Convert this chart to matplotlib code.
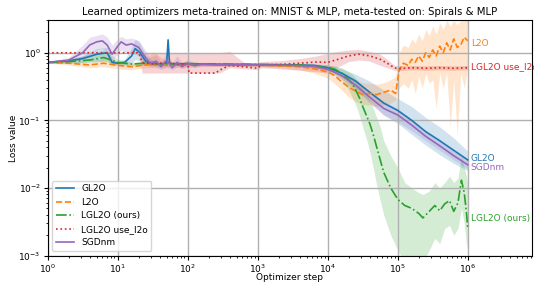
import numpy as np
import matplotlib
matplotlib.use("Agg")
import matplotlib.pyplot as plt

# log10(step) grids and values
gl2o_logx = [0, 0.3, 0.5, 0.7, 0.85, 0.92, 1.0, 1.1, 1.2, 1.25, 1.32, 1.4, 1.5, 1.6, 1.7, 1.72, 1.74, 1.8,
             2.0, 2.3, 2.6, 3.0, 3.5, 3.8, 4.0, 4.2, 4.4, 4.6, 4.8, 5.0, 5.2, 5.4, 5.6, 5.8, 6.0]
gl2o = [0.72, 0.76, 0.82, 0.95, 1.0, 0.72, 0.70, 0.72, 0.9, 1.15, 1.0, 0.75, 0.70, 0.68, 0.7, 1.55, 0.7, 0.68,
        0.69, 0.68, 0.67, 0.67, 0.66, 0.65, 0.60, 0.50, 0.38, 0.26, 0.18, 0.14, 0.10, 0.068, 0.05, 0.036, 0.026]
gl2o_lo = [0.7, 0.7, 0.72, 0.75, 0.78, 0.66, 0.65, 0.66, 0.7, 0.8, 0.75, 0.66, 0.65, 0.64, 0.65, 0.9, 0.65, 0.64,
           0.65, 0.65, 0.64, 0.64, 0.63, 0.61, 0.55, 0.44, 0.3, 0.19, 0.12, 0.09, 0.062, 0.043, 0.031, 0.023, 0.018]
gl2o_hi = [0.74, 0.8, 0.9, 1.15, 1.2, 0.8, 0.76, 0.8, 1.2, 1.6, 1.4, 0.9, 0.76, 0.72, 0.75, 1.7, 0.76, 0.72,
           0.72, 0.71, 0.7, 0.7, 0.69, 0.69, 0.66, 0.58, 0.48, 0.38, 0.28, 0.21, 0.16, 0.11, 0.08, 0.055, 0.035]

l2o_logx = [0, 0.3, 0.6, 0.8, 1.0, 1.2, 1.4, 1.5, 1.7, 2.0, 2.3, 2.6, 3.0, 3.3, 3.6, 3.8, 4.0, 4.1, 4.2, 4.3,
            4.4, 4.5, 4.6, 4.7, 4.8, 4.9, 4.97, 5.02, 5.08, 5.15, 5.2, 5.25, 5.3, 5.35, 5.4, 5.45, 5.5, 5.55,
            5.6, 5.65, 5.7, 5.75, 5.8, 5.85, 5.9, 5.95, 6.0]
l2o = [0.72, 0.7, 0.66, 0.7, 0.65, 0.62, 0.66, 0.68, 0.65, 0.66, 0.67, 0.67, 0.66, 0.64, 0.62, 0.58, 0.52, 0.46,
       0.37, 0.31, 0.27, 0.24, 0.25, 0.24, 0.26, 0.28, 0.25, 0.55, 0.7, 0.65, 0.8, 0.72, 0.9, 0.75, 1.0, 0.85,
       1.1, 0.9, 1.25, 1.0, 1.4, 1.1, 1.6, 1.2, 1.3, 1.7, 1.5]
l2o_lo = [0.7, 0.66, 0.6, 0.62, 0.58, 0.56, 0.6, 0.6, 0.6, 0.62, 0.63, 0.63, 0.62, 0.6, 0.56, 0.5, 0.42, 0.35,
          0.28, 0.22, 0.19, 0.17, 0.17, 0.16, 0.17, 0.18, 0.2, 0.3, 0.35, 0.3, 0.4, 0.25, 0.45, 0.3, 0.5, 0.35,
          0.4, 0.15, 0.5, 0.3, 0.5, 0.08, 0.4, 0.06, 0.5, 0.3, 0.6]
l2o_hi = [0.74, 0.76, 0.72, 0.8, 0.72, 0.7, 0.76, 1.05, 0.75, 0.72, 0.72, 0.72, 0.7, 0.69, 0.68, 0.66, 0.62, 0.58,
          0.5, 0.45, 0.4, 0.36, 0.35, 0.34, 0.36, 0.4, 0.45, 1.0, 1.3, 1.2, 1.6, 1.4, 1.9, 1.5, 2.2, 1.8, 2.5,
          1.9, 2.8, 2.2, 3.0, 2.5, 3.0, 2.6, 3.0, 3.0, 3.0]

lgl2o_logx = [0, 0.3, 0.6, 0.8, 1.0, 1.2, 1.4, 1.6, 2.0, 2.5, 3.0, 3.5, 3.8, 4.0, 4.1, 4.2, 4.3, 4.35, 4.4, 4.45,
              4.5, 4.55, 4.6, 4.65, 4.7, 4.75, 4.8, 4.9, 5.0, 5.1, 5.2, 5.3, 5.36, 5.45, 5.53, 5.6, 5.67, 5.74,
              5.8, 5.86, 5.91, 5.95, 5.98, 6.0]
lgl2o = [0.72, 0.74, 0.78, 0.85, 0.72, 0.68, 0.7, 0.68, 0.69, 0.68, 0.67, 0.66, 0.64, 0.61, 0.57, 0.5, 0.4,
         0.35, 0.28, 0.22, 0.16, 0.12, 0.09, 0.062, 0.04, 0.026, 0.017, 0.01, 0.0068, 0.0055, 0.005, 0.0042,
         0.0036, 0.0045, 0.0055, 0.0046, 0.0058, 0.0065, 0.0045, 0.006, 0.013, 0.0085, 0.0045, 0.0025]
lgl2o_lo = [0.7, 0.7, 0.72, 0.75, 0.66, 0.64, 0.66, 0.64, 0.65, 0.65, 0.64, 0.63, 0.6, 0.56, 0.5, 0.4, 0.28,
            0.22, 0.17, 0.12, 0.08, 0.055, 0.035, 0.02, 0.011, 0.0065, 0.004, 0.002, 0.0012, 0.0008, 0.0008,
            0.0008, 0.0008, 0.0012, 0.0018, 0.0015, 0.0025, 0.0028, 0.002, 0.0025, 0.005, 0.003, 0.0015, 0.0012]
lgl2o_hi = [0.74, 0.8, 0.95, 1.1, 0.8, 0.72, 0.74, 0.72, 0.72, 0.71, 0.7, 0.7, 0.68, 0.66, 0.64, 0.6, 0.52,
            0.48, 0.42, 0.36, 0.3, 0.25, 0.2, 0.15, 0.11, 0.08, 0.05, 0.03, 0.02, 0.012, 0.01, 0.0085, 0.008,
            0.009, 0.012, 0.01, 0.012, 0.015, 0.012, 0.014, 0.03, 0.02, 0.015, 0.012]

use_logx = [0, 1.0, 1.3, 1.35, 1.5, 1.7, 1.9, 2.0, 2.02, 2.4, 2.45, 2.6, 2.8, 3.0, 3.05, 3.3, 3.6, 3.85, 4.0,
            4.15, 4.3, 4.45, 4.6, 4.75, 4.85, 4.95, 5.0, 5.2, 5.4, 5.6, 5.8, 6.0]
use_l2o = [1.0, 1.0, 1.0, 0.72, 0.68, 0.72, 0.66, 0.7, 0.5, 0.5, 0.55, 0.65, 0.62, 0.59, 0.66, 0.67, 0.7, 0.73,
           0.72, 0.8, 0.9, 0.95, 0.9, 0.8, 0.7, 0.6, 0.58, 0.6, 0.59, 0.6, 0.59, 0.6]
use_lo = [1.0, 1.0, 0.98, 0.5, 0.5, 0.5, 0.5, 0.5, 0.5, 0.5, 0.5, 0.6, 0.58, 0.56, 0.6, 0.58, 0.55, 0.52, 0.5,
          0.62, 0.74, 0.78, 0.75, 0.65, 0.6, 0.55, 0.54, 0.56, 0.55, 0.56, 0.55, 0.56]
use_hi = [1.0, 1.0, 1.02, 1.0, 1.0, 1.0, 1.0, 1.0, 1.0, 1.0, 1.0, 1.05, 0.72, 0.7, 0.74, 0.76, 0.82, 0.9, 0.98,
          1.05, 1.1, 1.12, 1.05, 0.95, 0.8, 0.66, 0.64, 0.65, 0.64, 0.65, 0.64, 0.65]

sgd_logx = [0, 0.3, 0.5, 0.6, 0.7, 0.78, 0.85, 0.92, 1.0, 1.05, 1.12, 1.2, 1.3, 1.38, 1.46, 1.55, 1.62, 1.7,
            1.78, 1.85, 1.92, 2.0, 2.1, 2.2, 2.4, 2.7, 3.0, 3.5, 3.8, 4.0, 4.2, 4.4, 4.6, 4.8, 5.0, 5.2, 5.4,
            5.6, 5.8, 6.0]
sgd = [0.72, 0.78, 1.0, 1.3, 1.45, 1.5, 1.3, 0.95, 1.25, 1.45, 1.3, 1.35, 1.2, 0.9, 0.7, 0.75, 0.62, 0.78, 0.6,
       0.72, 0.62, 0.7, 0.64, 0.68, 0.66, 0.67, 0.66, 0.65, 0.63, 0.57, 0.46, 0.33, 0.22, 0.15, 0.12, 0.085,
       0.058, 0.042, 0.03, 0.022]
sgd_lo = [0.7, 0.72, 0.8, 0.95, 1.1, 1.15, 1.0, 0.75, 0.95, 1.1, 1.0, 1.0, 0.9, 0.72, 0.62, 0.62, 0.56, 0.62,
          0.56, 0.62, 0.58, 0.62, 0.6, 0.63, 0.63, 0.64, 0.64, 0.63, 0.6, 0.53, 0.41, 0.28, 0.18, 0.12, 0.095,
          0.07, 0.05, 0.036, 0.026, 0.019]
sgd_hi = [0.74, 0.85, 1.3, 1.7, 1.8, 1.9, 1.7, 1.3, 1.6, 1.75, 1.6, 1.65, 1.5, 1.15, 0.85, 0.95, 0.75, 1.0,
          0.72, 0.9, 0.7, 0.8, 0.7, 0.72, 0.7, 0.7, 0.69, 0.68, 0.66, 0.62, 0.52, 0.39, 0.27, 0.19, 0.15, 0.1,
          0.068, 0.05, 0.035, 0.026]

series = [
    ("GL2O", gl2o_logx, gl2o, gl2o_lo, gl2o_hi, "#1f77b4", "-", 0.027),
    ("L2O", l2o_logx, l2o, l2o_lo, l2o_hi, "#ff7f0e", "--", 1.35),
    ("LGL2O (ours)", lgl2o_logx, lgl2o, lgl2o_lo, lgl2o_hi, "#2ca02c", "-.", 0.0035),
    ("LGL2O use_l2o", use_logx, use_l2o, use_lo, use_hi, "#d62728", ":", 0.62),
    ("SGDnm", sgd_logx, sgd, sgd_lo, sgd_hi, "#9467bd", "-", 0.02),
]

fig = plt.figure(figsize=(5.34, 2.83), dpi=100)
ax = fig.add_axes([0.0893, 0.097, 0.9064, 0.8306])

for name, lx, y, lo, hi, c, ls, ty in series:
    x = 10 ** np.array(lx)
    ax.fill_between(x, lo, hi, color=c, alpha=0.2, lw=0)
    ax.plot(x, y, color=c, ls=ls, lw=1.2, label=name)
    ax.text(1.1e6, ty, name, color=c, fontsize=6.5, va="center", ha="left")

ax.set_xscale("log")
ax.set_yscale("log")
ax.set_xlim(1, 8.2e6)
ax.set_ylim(1e-3, 3.0)
ax.grid(True, which="major", color="#b0b0b0", lw=1)
ax.tick_params(labelsize=6.5, length=3, pad=2)
ax.tick_params(which="minor", length=1.5)
ax.set_xlabel("Optimizer step", fontsize=6.5)
ax.set_ylabel("Loss value", fontsize=6.5)
ax.xaxis.set_label_coords(0.5, -0.075)
ax.yaxis.set_label_coords(-0.062, 0.5)
ax.set_title("Learned optimizers meta-trained on: MNIST & MLP, meta-tested on: Spirals & MLP", fontsize=7.3, pad=4)
ax.legend(loc="lower left", fontsize=6.5, framealpha=0.8)

fig.savefig("out.png", dpi=100)
